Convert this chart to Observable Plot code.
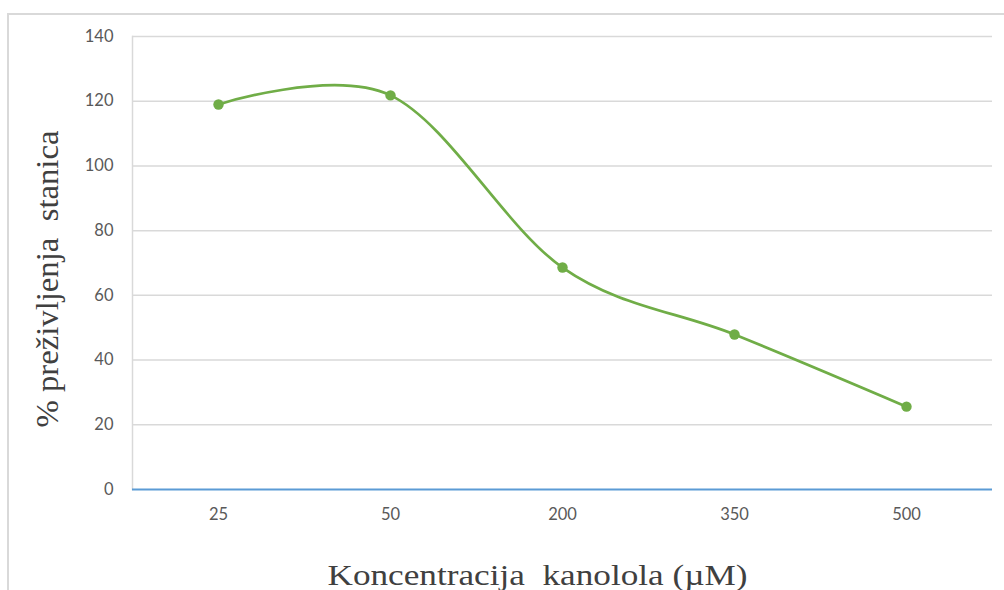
<!DOCTYPE html>
<html>
<head>
<meta charset="utf-8">
<script src="https://cdn.jsdelivr.net/npm/d3@7"></script>
<script src="https://cdn.jsdelivr.net/npm/@observablehq/plot@0.6"></script>
<style>
  html, body { margin: 0; padding: 0; background: #fff; overflow: hidden; }
  #wrap { position: relative; width: 1004px; height: 590px; }
  #border { position: absolute; left: 7px; top: 13px; width: 1010px; height: 600px; border: 2px solid #d9d9d9; box-sizing: border-box; }
  #chart { position: absolute; left: 0; top: 0; }
</style>
</head>
<body>
<div id="wrap"><div id="border"></div><div id="chart"></div></div>
<script>
const concentrations = ["25", "50", "200", "350", "500"];
const survival = [119, 121.8, 68.6, 47.9, 25.6];
const yTicks = [0, 20, 40, 60, 80, 100, 120, 140];
const xTitle = "Koncentracija  kanolola (µM)";
const yTitle = "% preživljenja  stanica";

const data = concentrations.map((c, i) => ({c, v: survival[i]}));

const chart = Plot.plot({
  width: 1004,
  height: 590,
  marginLeft: 132,
  marginRight: 12,
  marginTop: 36,
  marginBottom: 101,
  style: {background: "transparent", overflow: "visible"},
  x: {type: "point", domain: concentrations, padding: 0.5, label: null},
  y: {domain: [0, 140], label: null},
  marks: [
    Plot.ruleY(yTicks.filter(d => d > 0), {stroke: "#d9d9d9", strokeWidth: 1.5}),
    Plot.frame({anchor: "left", stroke: "#d9d9d9", strokeWidth: 1.5}),
    Plot.ruleY([0], {stroke: "#5b9bd5", strokeWidth: 2}),
    Plot.axisY({ticks: yTicks, tickSize: 0, tickPadding: 19, fontSize: 16.5, fill: "#595959", fontFamily: "Lato", label: null}),
    Plot.axisX({tickSize: 0, tickPadding: 19, fontSize: 16.5, fill: "#595959", fontFamily: "Lato", label: null}),
    Plot.line(data, {x: "c", y: "v", stroke: "#70ad47", strokeWidth: 2.7, curve: "cardinal"}),
    Plot.dot(data, {x: "c", y: "v", r: 5.2, fill: "#70ad47", stroke: "none"}),
    Plot.text([xTitle], {frameAnchor: "bottom", dx: -25, dy: 86, fontSize: 30, fontFamily: "Liberation Serif", fill: "#404040", textAnchor: "middle", lineAnchor: "middle", text: d => d, className: "xtitle"}),
    Plot.text([yTitle], {frameAnchor: "left", dx: -84, dy: 16, rotate: -90, fontSize: 31, fontFamily: "Liberation Serif", fill: "#404040", textAnchor: "middle", lineAnchor: "middle", text: d => d, className: "ytitle"})
  ]
});
d3.select(chart).select("g.xtitle text").attr("textLength", 420).attr("lengthAdjust", "spacingAndGlyphs");
d3.select(chart).select("g.ytitle text").attr("textLength", 297).attr("lengthAdjust", "spacingAndGlyphs");
document.getElementById("chart").appendChild(chart);
</script>
</body>
</html>
